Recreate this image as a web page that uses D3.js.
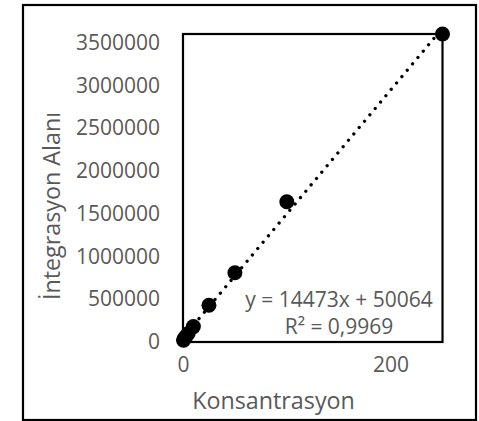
<!DOCTYPE html>
<html>
<head>
<meta charset="utf-8">
<script src="https://cdn.jsdelivr.net/npm/d3@7"></script>
<style>
  html, body { margin: 0; padding: 0; background: #fff; }
  svg { display: block; }
  text { font-family: "Open Sans", "Noto Sans", sans-serif; }
</style>
</head>
<body>
<svg id="chart" width="479" height="421"></svg>
<script>
// Data
const concentrations = [0.5, 1, 2.5, 5, 10, 25, 50, 100, 250];
const areas = [20000, 35000, 60000, 100000, 180000, 430000, 810000, 1640000, 3600000];
const yTicks = [0, 500000, 1000000, 1500000, 2000000, 2500000, 3000000, 3500000];
const xTicks = [0, 200];
const trendSlope = 14473;
const trendIntercept = 50064;
const equationLines = ["y = 14473x + 50064", "R² = 0,9969"];
const xTitle = "Konsantrasyon";
const yTitle = "İntegrasyon Alanı";

const svg = d3.select("#chart");
const plot = { left: 183, right: 442.5, top: 34, bottom: 342 };

const x = d3.scaleLinear().domain([0, 250]).range([plot.left, plot.right]);
const y = d3.scaleLinear().domain([0, 3600000]).range([plot.bottom, plot.top]);

// outer chart border
svg.append("rect")
  .attr("x", 23).attr("y", 5).attr("width", 453).attr("height", 415)
  .attr("fill", "#fff").attr("stroke", "#000").attr("stroke-width", 2.2);

// clip for the plot area
svg.append("clipPath").attr("id", "plotClip")
  .append("rect")
  .attr("x", plot.left).attr("y", plot.top)
  .attr("width", plot.right - plot.left).attr("height", plot.bottom - plot.top);

// y axis tick labels
const yAxis = d3.axisLeft(y).tickValues(yTicks).tickSize(0).tickPadding(23)
  .tickFormat(d3.format("d"));
const gy = svg.append("g").attr("transform", `translate(${plot.left},0)`).call(yAxis);
gy.select(".domain").remove();
gy.selectAll("text").attr("fill", "#595959").style("font-size", "21px")
  .style("font-family", "'Open Sans', sans-serif");

// x axis tick labels
const xAxis = d3.axisBottom(x).tickValues(xTicks).tickSize(0).tickPadding(22)
  .tickFormat(d3.format("d"));
const gx = svg.append("g").attr("transform", `translate(0,${plot.bottom})`).call(xAxis);
gx.select(".domain").remove();
gx.selectAll("text").attr("fill", "#595959").style("font-size", "21px")
  .style("font-family", "'Open Sans', sans-serif").attr("dy", "0.35em")
  .attr("y", 23);

// plot area border
svg.append("rect")
  .attr("x", plot.left).attr("y", plot.top)
  .attr("width", plot.right - plot.left).attr("height", plot.bottom - plot.top)
  .attr("fill", "none").attr("stroke", "#000").attr("stroke-width", 2.2);

// trendline (dotted)
const trendX = [0, 250];
svg.append("path")
  .attr("clip-path", "url(#plotClip)")
  .datum(trendX)
  .attr("d", d3.line().x(d => x(d)).y(d => y(trendSlope * d + trendIntercept)))
  .attr("fill", "none").attr("stroke", "#000")
  .attr("stroke-width", 3.3).attr("stroke-linecap", "round")
  .attr("stroke-dasharray", "0.01 8.3");

// markers
svg.append("g").selectAll("circle")
  .data(concentrations.map((c, i) => [c, areas[i]]))
  .join("circle")
  .attr("cx", d => x(d[0])).attr("cy", d => y(d[1]))
  .attr("r", 7.5).attr("fill", "#000");

// equation label
svg.append("text")
  .attr("x", 339).attr("y", 307)
  .attr("text-anchor", "middle").attr("fill", "#595959").style("font-size", "21px")
  .selectAll("tspan").data(equationLines).join("tspan")
  .attr("x", 339).attr("dy", (d, i) => i === 0 ? 0 : 26.5)
  .text(d => d);

// axis titles
svg.append("text")
  .attr("x", 273.5).attr("y", 409)
  .attr("text-anchor", "middle").attr("fill", "#595959").style("font-size", "23.3px")
  .text(xTitle);

svg.append("text")
  .attr("transform", "translate(60,206) rotate(-90)")
  .attr("text-anchor", "middle").attr("fill", "#595959").style("font-size", "23.3px")
  .text(yTitle);
</script>
</body>
</html>
